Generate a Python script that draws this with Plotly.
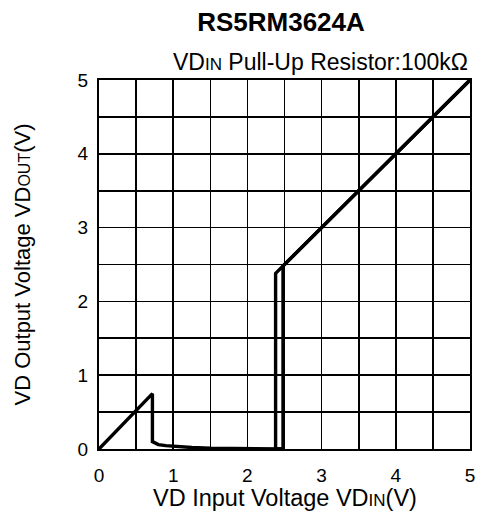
import plotly.graph_objects as go

# Rising sweep of VD input voltage
rise_vdin = [0.0, 0.72, 0.72, 0.8, 0.9, 1.0, 1.25, 1.5, 2.0, 2.48, 2.48, 5.0]
rise_vdout = [0.0, 0.75, 0.10, 0.06, 0.045, 0.035, 0.02, 0.01, 0.0, 0.0, 2.48, 5.0]
# Falling sweep (hysteresis)
fall_vdin = [5.0, 2.38, 2.38, 2.48]
fall_vdout = [5.0, 2.38, 0.0, 0.0]

tick_vals = [0, 0.5, 1, 1.5, 2, 2.5, 3, 3.5, 4, 4.5, 5]
tick_text = ["0", "", "1", "", "2", "", "3", "", "4", "", "5"]

FONT = "Arial, Liberation Sans, sans-serif"

W, H = 477, 515
L, T, R, B = 99, 80, 7, 66

fig = go.Figure()
fig.add_trace(go.Scatter(x=rise_vdin, y=rise_vdout, mode="lines",
                         line=dict(color="black", width=3.4), showlegend=False))
fig.add_trace(go.Scatter(x=fall_vdin, y=fall_vdout, mode="lines",
                         line=dict(color="black", width=3.4), showlegend=False))

axis_common = dict(
    range=[0, 5], tickvals=tick_vals, ticktext=tick_text, automargin=False,
    showgrid=True, gridcolor="black", gridwidth=1.6,
    showline=True, linecolor="black", linewidth=2, mirror=True,
    zeroline=False, ticks="outside", tickcolor="rgba(0,0,0,0)",
    tickfont=dict(family=FONT, size=19, color="black"),
)
fig.update_xaxes(**axis_common, ticklen=8)
fig.update_yaxes(**axis_common, ticklen=5)

pw = W - L - R
ph = H - T - B

fig.update_layout(
    width=W, height=H,
    margin=dict(l=L, r=R, t=T, b=B, autoexpand=False),
    paper_bgcolor="white", plot_bgcolor="white",
    font=dict(family=FONT, color="black"),
    hovermode=False,
    title=dict(text="<b>RS5RM3624A</b>", x=281 / W, xanchor="center",
               y=1 - 22 / H, yanchor="middle", font=dict(size=26, family=FONT)),
    annotations=[
        dict(text="VD<span style='font-size:17px'>IN</span> Pull-Up Resistor:100kΩ",
             xref="paper", yref="paper", x=1.0, y=1 + 17.5 / ph,
             xanchor="right", yanchor="middle", showarrow=False,
             font=dict(size=23, family=FONT)),
        dict(text="VD Input Voltage VD<span style='font-size:17px'>IN</span>(V)",
             xref="paper", yref="paper", x=0.5, y=-49 / ph,
             xanchor="center", yanchor="middle", showarrow=False,
             font=dict(size=23.5, family=FONT)),
        dict(text="VD Output Voltage VD<span style='font-size:16px'>OUT</span>(V)",
             xref="paper", yref="paper", x=-77 / pw, y=0.5, textangle=-90,
             xanchor="center", yanchor="middle", showarrow=False,
             font=dict(size=22, family=FONT)),
    ],
)

fig.write_html(
    "out.html",
    config={"displayModeBar": False, "staticPlot": True},
    post_script="document.body.style.margin='0';document.body.style.overflow='hidden';",
)
